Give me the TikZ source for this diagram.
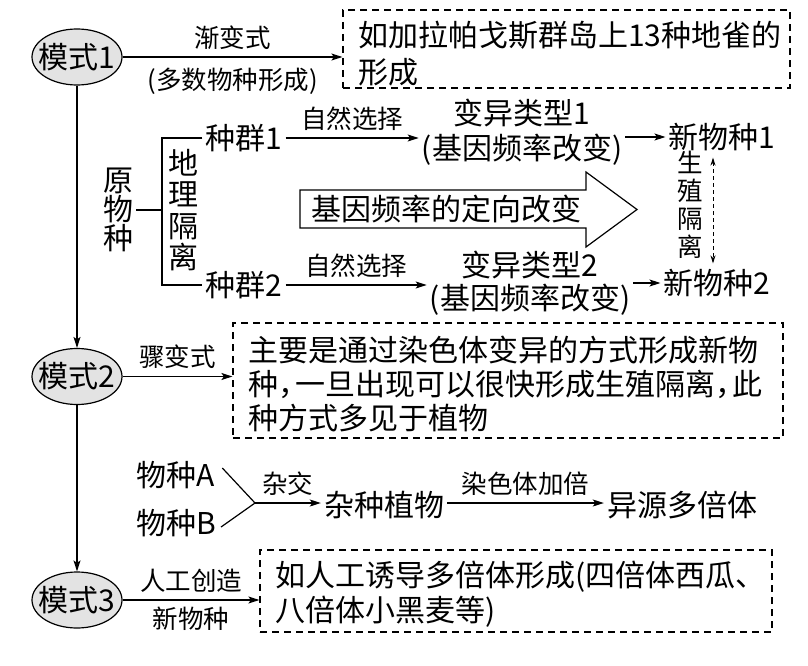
\documentclass[tikz,border=0pt]{standalone}
\usepackage{fontspec}
\setmainfont{Noto Sans CJK SC}
\usetikzlibrary{shapes.geometric,arrows.meta}
\newcommand\mainsz{\fontsize{30}{35}\selectfont}
\newcommand\labsz{\fontsize{25.5}{30}\selectfont}
\tikzset{
  arr/.style={-{Stealth[length=11pt,width=7pt,inset=2.5pt]}, line width=1.2pt},
  ln/.style={line width=1.2pt},
  mode/.style={ellipse, draw, line width=1.2pt, fill=gray!22, minimum width=90pt, minimum height=56pt, inner sep=0pt, font=\mainsz},
  txt/.style={inner sep=3pt, font=\mainsz},
  lab/.style={inner sep=2pt, font=\labsz},
  dbox/.style={draw, dash pattern=on 7pt off 5pt, line width=1.2pt, inner sep=0pt},
  vtxt/.style={inner sep=3pt, align=center},
}
\begin{document}
\begin{tikzpicture}[x=1pt,y=-1pt]
\fill[white] (0,0) rectangle (808,666);
\useasboundingbox (0,0) rectangle (808,666);

% modes
\node[mode] (m1) at (77,57) {\makebox[30pt]{模式1}};
\node[mode] (m2) at (77,376.5) {\makebox[30pt]{模式2}};
\node[mode] (m3) at (77,600) {\makebox[30pt]{模式3}};
\draw[arr] (m1) -- (m2);
\draw[arr] (m2) -- (m3);

% box 1
\node[dbox, minimum width=447pt, minimum height=78pt] (b1) at (566.5,49) {};
\node[txt, anchor=west, align=left, font=\fontsize{30}{37}\selectfont] (t1) at (355,53.5) {如加拉帕戈斯群岛上13种地雀的\\形成};
\draw[arr] (m1.east) -- (m1.east -| b1.west)
  node[lab, midway, above=5pt] {渐变式}
  node[lab, midway, below=8pt] {(多数物种形成)};

% allopatric scheme
\node[vtxt, font=\fontsize{30}{29}\selectfont] (org) at (118,210) {原\\物\\种};
\coordinate (brk) at (162,210);
\node[vtxt, font=\fontsize{30}{31.5}\selectfont] (geo) at (183,210) {地\\理\\隔\\离};
\node[txt] (p1) at (244,138) {种群1};
\node[txt] (p2) at (244,285) {种群2};
\draw[ln] (org.east) -- (brk);
\draw[ln] (p1.west) -| (brk) |- (p2.west);

\node[vtxt, font=\fontsize{30}{35}\selectfont] (v1) at (522,132.5) {变异类型1\\(基因频率改变)};
\node[vtxt, font=\fontsize{30}{33}\selectfont] (v2) at (530,283.5) {变异类型2\\(基因频率改变)};
\draw[arr] (p1.east) -- (p1.east -| v1.west) node[lab, midway, above=5pt] {自然选择};
\draw[arr] (p2.east) -- (p2.east -| v2.west) node[lab, midway, above=5pt] {自然选择};

\node[txt] (n1) at (722,137) {新物种1};
\node[txt] (n2) at (717,283) {新物种2};
\draw[arr] (v1.east |- n1.west) -- (n1.west);
\draw[arr] (v2.east |- n2.west) -- (n2.west);

\node[vtxt, font=\fontsize{25.5}{28}\selectfont] (rep) at (690,205) {生\\殖\\隔\\离};
\draw[dash pattern=on 4pt off 3pt, line width=1pt, {Stealth[length=8pt,width=5pt]}-{Stealth[length=8pt,width=5pt]}]
  ([xshift=-9pt,yshift=-3.5pt]n1.south) -- ([xshift=-4pt,yshift=2.5pt]n2.north);

% block arrow
\draw[ln] (300,190) -- (586,190) -- (586,172) -- (637,209.5) -- (586,247) -- (586,228) -- (300,228) -- cycle;
\node[txt] (ga) at (446,209) {基因频率的定向改变};

% box 2
\node[dbox, minimum width=550pt, minimum height=115pt] (b2) at (508,380.5) {};
\node[txt, anchor=west, align=left, font=\fontsize{30}{34}\selectfont] (t2) at (245,384) {主要是通过染色体变异的方式形成新物\\种，\kern-13pt 一旦出现可以很快形成生殖隔离，\kern-13pt 此\\种方式多见于植物};
\draw[arr] (m2.east) -- (m2.east -| b2.west) node[lab, midway, above=5pt] {骤变式};

% polyploid scheme
\node[txt] (sa) at (176,475) {物种A};
\node[txt] (sb) at (176,523) {物种B};
\coordinate (j) at (255,503);
\node[txt] (hy) at (384,505) {杂种植物};
\node[txt] (ap) at (682,505) {异源多倍体};
\draw[ln] ([xshift=4pt,yshift=7pt]sa.east) -- (j);
\draw[ln] ([xshift=2pt,yshift=-4pt]sb.east) -- (j);
\draw[arr] (j) -- (j -| hy.west) node[lab, midway, above=5pt] {杂交};
\draw[arr] (hy.east |- j) -- (ap.west |- j) node[lab, midway, above=5pt] {染色体加倍};

% box 3
\node[dbox, minimum width=512pt, minimum height=82pt] (b3) at (516,591) {};
\node[txt, anchor=west, align=left, font=\fontsize{30}{35}\selectfont] (t3) at (272,594.5) {如人工诱导多倍体形成(四倍体西瓜、\\八倍体小黑麦等)};
\draw[arr] (m3.east) -- (m3.east -| b3.west)
  node[lab, midway, above=5pt] {人工创造}
  node[lab, midway, below=4pt] {新物种};
\end{tikzpicture}
\end{document}
